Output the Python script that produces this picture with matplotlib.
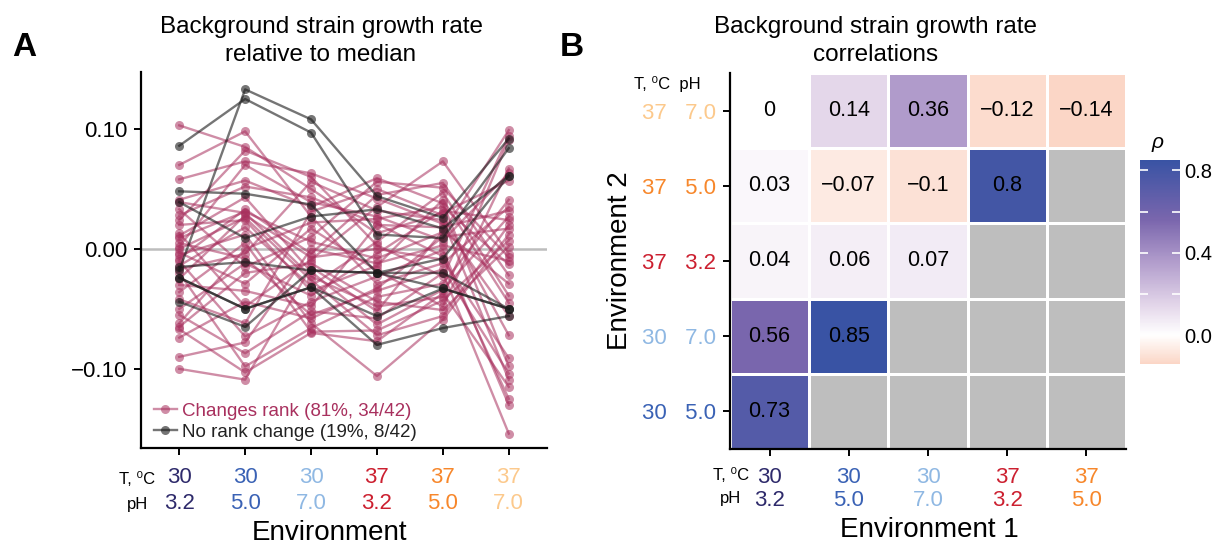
import numpy as np
import matplotlib
matplotlib.use('Agg')
import matplotlib.pyplot as plt
from matplotlib.colors import LinearSegmentedColormap, ListedColormap, Normalize
from matplotlib.lines import Line2D

plt.rcParams['font.family'] = ['Liberation Sans', 'DejaVu Sans']

# environments (temperature, pH) and their label colours
env_temp = ['30', '30', '30', '37', '37', '37']
env_ph = ['3.2', '5.0', '7.0', '3.2', '5.0', '7.0']
env_colors = ['#2e2a6b', '#3a62b5', '#8fb8e3', '#cc2030', '#f7872b', '#fcc98c']

# growth rate relative to median (x 1e-3), one row per background strain
changes_rank = [
    [103, 85, 50, 13, 30, 57],
    [70, 98, 27, -29, -12, 35],
    [58, 73, 63, 42, 21, -56],
    [41, 57, 35, 59, 38, -98],
    [39, 30, -23, -48, -40, 91],
    [33, -15, 10, 56, 51, -7],
    [28, 52, 43, 21, -6, -125],
    [24, 82, 60, 3, -23, 94],
    [20, 24, -35, -14, 41, -45],
    [13, -48, -9, 35, 73, -4],
    [11, 43, -19, -63, -34, 27],
    [9, 31, 6, -8, 14, 99],
    [5, -8, -55, -35, -17, -104],
    [2, 70, 39, 27, 7, 63],
    [0, 26, -26, -72, -56, 20],
    [-3, -29, 17, -18, -48, 67],
    [-5, 12, -62, -106, -59, 12],
    [-8, 33, -4, 45, 55, -22],
    [-10, -73, -44, -23, -1, -130],
    [-14, 18, -31, 6, 47, -39],
    [-17, -4, 56, 32, 24, -109],
    [-20, -98, -66, -40, -29, 41],
    [-25, 28, -7, 0, -9, -91],
    [-30, -35, -48, 20, 18, 32],
    [-36, 5, -69, -68, -43, 7],
    [-42, -62, 31, 50, 28, -72],
    [-50, -12, -39, -4, 32, 24],
    [-55, -87, -52, -58, -20, -154],
    [-62, 0, 22, 25, 35, -13],
    [-65, -20, -12, -44, -51, 2],
    [-67, -103, -70, -77, -37, -115],
    [-74, -44, -58, -33, 10, 17],
    [-90, -78, 0, -12, 3, -10],
    [-100, -109, -15, -52, 15, -29],
]
no_rank_change = [
    [-18, 133, 108, 44, 26, 92],
    [86, 125, 97, 12, 9, 84],
    [48, 46, 37, -20, -20, -50],
    [39, 9, 27, 33, 17, 61],
    [-15, -11, -18, -20, -8, 61],
    [-24, -50, -32, -56, -33, -50],
    [-24, -50, -32, -80, -66, -56],
    [-44, -65, -18, -20, -33, -50],
]

# Spearman correlations, rows = environment 2 (bottom to top), cols = environment 1
env2_idx = [1, 2, 3, 4, 5]
env1_idx = [0, 1, 2, 3, 4]
rho = np.array([
    [0.73, np.nan, np.nan, np.nan, np.nan],
    [0.56, 0.85, np.nan, np.nan, np.nan],
    [0.04, 0.06, 0.07, np.nan, np.nan],
    [0.03, -0.07, -0.1, 0.8, np.nan],
    [0, 0.14, 0.36, -0.12, -0.14],
])

pink = '#a8305e'
W, H = 1217, 551
fig = plt.figure(figsize=(W / 100, H / 100), dpi=100)


def px_rect(x0, y0, x1, y1):
    return [x0 / W, 1 - y1 / H, (x1 - x0) / W, (y1 - y0) / H]


# ---------------- panel A ----------------
ax = fig.add_axes(px_rect(141, 72, 547, 448))
x = np.arange(len(env_temp))
ax.axhline(0, color='#bdbdbd', lw=1.8, zorder=1)
for row in changes_rank:
    ax.plot(x, np.array(row) / 1000, color=pink, alpha=0.55, lw=1.7,
            marker='o', ms=6.5, mew=0, zorder=2)
for row in no_rank_change:
    ax.plot(x, np.array(row) / 1000, color='#1a1a1a', alpha=0.6, lw=1.7,
            marker='o', ms=6.5, mew=0, zorder=3)

ax.set_xlim(-0.58, 5.58)
ax.set_ylim(-0.166, 0.1475)
ax.set_yticks([-0.1, 0, 0.1])
ax.set_yticklabels(['\u22120.10', '0.00', '0.10'])
ax.set_xticks(x)
ax.set_xticklabels([t + '\n' + p for t, p in zip(env_temp, env_ph)],
                   linespacing=1.28)
for lbl, c in zip(ax.get_xticklabels(), env_colors):
    lbl.set_color(c)
ax.tick_params(labelsize=16, length=5, width=1.4, pad=5)
ax.tick_params(axis='x', pad=9)
for s in ['top', 'right']:
    ax.spines[s].set_visible(False)
for s in ['left', 'bottom']:
    ax.spines[s].set_linewidth(1.6)

handles = [Line2D([0], [0], color=pink, alpha=0.55, lw=1.7, marker='o', ms=6.5, mew=0),
           Line2D([0], [0], color='#1a1a1a', alpha=0.6, lw=1.7, marker='o', ms=6.5, mew=0)]
ax.legend(handles, ['Changes rank (81%, 34/42)', 'No rank change (19%, 8/42)'],
          loc='lower left', bbox_to_anchor=(0.0, -0.015), frameon=False,
          fontsize=13.5, handlelength=1.2, handletextpad=0.3, labelspacing=0.2,
          borderpad=0.2, labelcolor=['#a8305e', '#222222'])

fig.text(155 / W, 1 - 479 / H, 'T, \u2070C', ha='right', va='center', fontsize=12)
fig.text(148 / W, 1 - 504 / H, 'pH', ha='right', va='center', fontsize=12)
fig.text(321 / W, 1 - 41 / H, 'Background strain growth rate\nrelative to median',
         ha='center', va='center', fontsize=17.5, linespacing=1.3)
fig.text(329 / W, 1 - 533 / H, 'Environment', ha='center', va='center', fontsize=20)
fig.text(24 / W, 1 - 47 / H, 'A', ha='center', va='center', fontsize=24, weight='bold')

# ---------------- panel B ----------------
axb = fig.add_axes(px_rect(730, 73, 1126, 449))
vmin, vmax = -0.14, 0.85
nodes = [(-0.14, '#fbd6c6'), (0.0, '#ffffff'), (0.14, '#e4d7ea'),
         (0.36, '#b09bcb'), (0.56, '#7a66ad'), (0.85, '#3953a4')]
cmap = LinearSegmentedColormap.from_list(
    'rho', [((v - vmin) / (vmax - vmin), c) for v, c in nodes])
norm = Normalize(vmin=vmin, vmax=vmax)

xe = np.arange(len(env1_idx) + 1) - 0.5
ye = np.arange(len(env2_idx) + 1) - 0.5
na = np.ma.masked_invalid(np.where(np.isnan(rho), 1.0, np.nan))
axb.pcolormesh(xe, ye, na, cmap=ListedColormap(['#bebebe']),
               edgecolors='white', linewidth=2)
mesh = axb.pcolormesh(xe, ye, np.ma.masked_invalid(rho), cmap=cmap, norm=norm,
                      edgecolors='white', linewidth=2)
for i in range(rho.shape[0]):
    for j in range(rho.shape[1]):
        if not np.isnan(rho[i, j]):
            txt = ('%g' % rho[i, j]).replace('-', '\u2212')
            axb.text(j, i, txt, ha='center', va='center', fontsize=15.5)

axb.set_xlim(-0.5, 4.5)
axb.set_ylim(-0.5, 4.5)
axb.set_xticks(range(len(env1_idx)))
axb.set_xticklabels([env_temp[k] + '\n' + env_ph[k] for k in env1_idx], linespacing=1.1)
for lbl, k in zip(axb.get_xticklabels(), env1_idx):
    lbl.set_color(env_colors[k])
axb.set_yticks(range(len(env2_idx)))
axb.set_yticklabels([env_temp[k] + '   ' + env_ph[k] for k in env2_idx])
for lbl, k in zip(axb.get_yticklabels(), env2_idx):
    lbl.set_color(env_colors[k])
axb.tick_params(labelsize=16, length=5, width=1.4, pad=5)
axb.tick_params(axis='x', pad=8)
for s in ['top', 'right']:
    axb.spines[s].set_visible(False)
for s in ['left', 'bottom']:
    axb.spines[s].set_linewidth(1.6)

fig.text(749 / W, 1 - 476 / H, 'T, \u2070C', ha='right', va='center', fontsize=12)
fig.text(741 / W, 1 - 499 / H, 'pH', ha='right', va='center', fontsize=12)
fig.text(634 / W, 1 - 84 / H, 'T, \u2070C  pH', ha='left', va='center', fontsize=12)
fig.text(876 / W, 1 - 41 / H, 'Background strain growth rate\ncorrelations',
         ha='center', va='center', fontsize=17.5, linespacing=1.3)
fig.text(929 / W, 1 - 530 / H, 'Environment 1', ha='center', va='center', fontsize=20)
fig.text(620 / W, 1 - 261 / H, 'Environment 2', ha='center', va='center',
         fontsize=20, rotation=90)
fig.text(572 / W, 1 - 47 / H, 'B', ha='center', va='center', fontsize=24, weight='bold')

cax = fig.add_axes(px_rect(1140, 160, 1180, 364))
cb = fig.colorbar(mesh, cax=cax, ticks=[0, 0.2, 0.4, 0.6, 0.8])
cb.ax.set_yticklabels(['0.0', '', '0.4', '', '0.8'])
cb.outline.set_visible(False)
cb.ax.tick_params(direction='in', color='white', labelcolor='black', length=6,
                  width=1.2, left=True, right=True, labelsize=14.5, pad=3)
fig.text(1158 / W, 1 - 143 / H, '\u03c1', ha='center', va='center',
         fontsize=15, style='italic')

fig.savefig('out.png', dpi=100)
